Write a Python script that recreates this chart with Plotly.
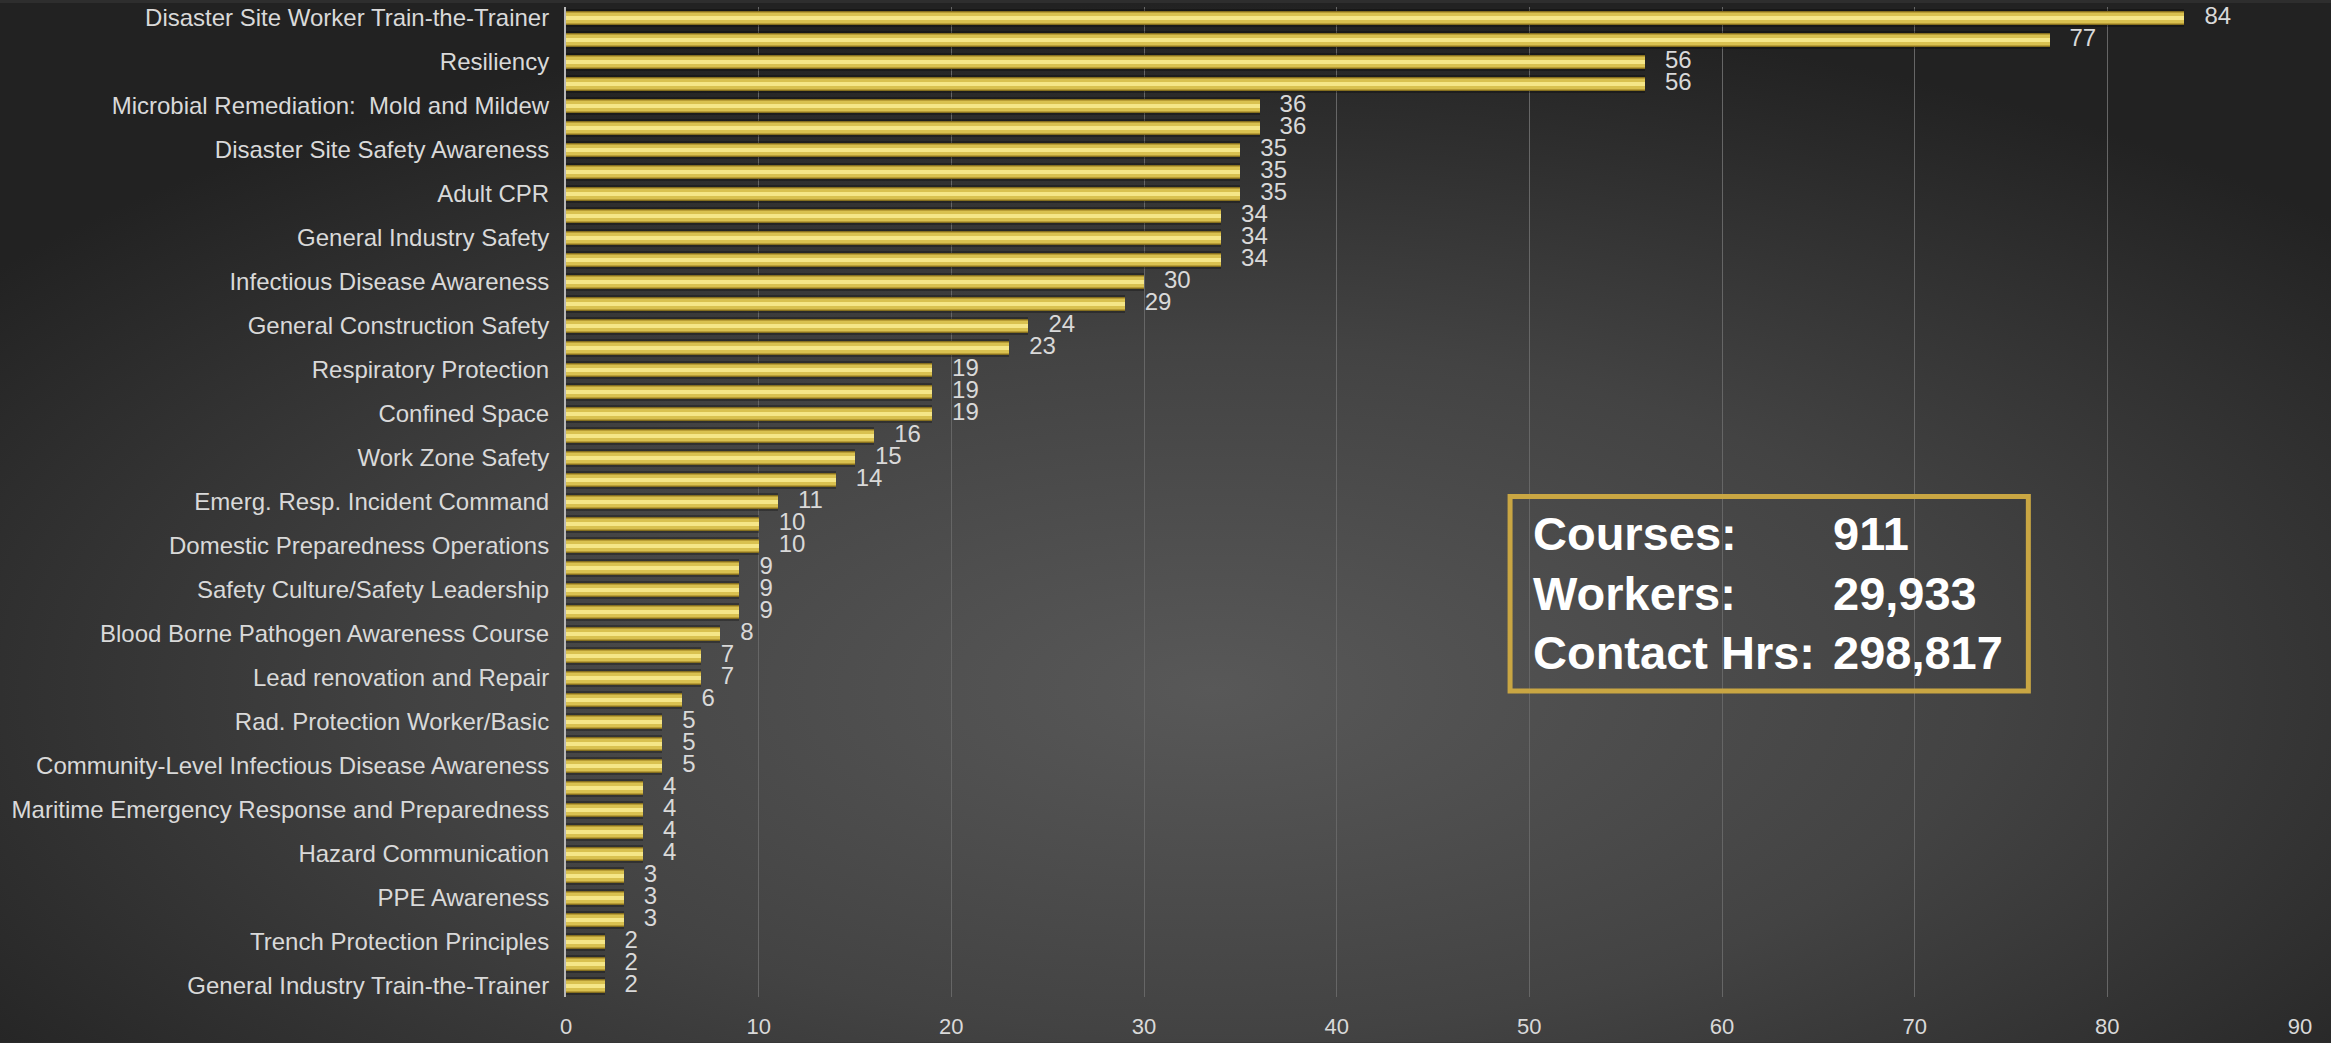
import base64
import plotly.graph_objects as go

# ---- data ----
courses = [
    "Disaster Site Worker Train-the-Trainer", "",
    "Resiliency", "",
    "Microbial Remediation:  Mold and Mildew", "",
    "Disaster Site Safety Awareness", "",
    "Adult CPR", "",
    "General Industry Safety", "",
    "Infectious Disease Awareness", "",
    "General Construction Safety", "",
    "Respiratory Protection", "",
    "Confined Space", "",
    "Work Zone Safety", "",
    "Emerg. Resp. Incident Command", "",
    "Domestic Preparedness Operations", "",
    "Safety Culture/Safety Leadership", "",
    "Blood Borne Pathogen Awareness Course", "",
    "Lead renovation and Repair", "",
    "Rad. Protection Worker/Basic", "",
    "Community-Level Infectious Disease Awareness", "",
    "Maritime Emergency Response and Preparedness", "",
    "Hazard Communication", "",
    "PPE Awareness", "",
    "Trench Protection Principles", "",
    "General Industry Train-the-Trainer",
]
counts = [84, 77, 56, 56, 36, 36, 35, 35, 35, 34, 34, 34, 30, 29, 24, 23,
          19, 19, 19, 16, 15, 14, 11, 10, 10, 9, 9, 9, 8, 7, 7, 6,
          5, 5, 5, 4, 4, 4, 4, 3, 3, 3, 2, 2, 2]
x_ticks = [0, 10, 20, 30, 40, 50, 60, 70, 80, 90]
summary_labels = ["Courses:", "Workers:", "Contact Hrs:"]
summary_values = ["911", "29,933", "298,817"]

rows = list(range(len(counts)))

W, H = 2331, 1043
ML, MR, MT, MB = 566, 31, 4, 46
PW, PH = W - ML - MR, H - MT - MB

FONT = "Liberation Sans, Arial, sans-serif"
TXT = "#d9d9d9"

# background radial gradient as an SVG image
svg = f'''<svg xmlns="http://www.w3.org/2000/svg" width="{W}" height="{H}" viewBox="0 0 {W} {H}" preserveAspectRatio="none">
<defs><radialGradient id="g" cx="0.52" cy="0.66" r="0.66" gradientUnits="objectBoundingBox">
<stop offset="0" stop-color="#585858"/><stop offset="0.5" stop-color="#434343"/><stop offset="1" stop-color="#222222"/>
</radialGradient></defs><rect width="{W}" height="{H}" fill="url(#g)"/></svg>'''
src = "data:image/svg+xml;base64," + base64.b64encode(svg.encode()).decode()

fig = go.Figure()
layers = [
    (0.84, "rgba(0,0,0,0.28)"),
    (0.66, "#86701f"),
    (0.56, "#b89c36"),
    (0.42, "#d9c150"),
    (0.20, "#f5e688"),
]
for wdt, col in layers:
    fig.add_trace(go.Bar(
        x=counts, y=rows, orientation="h", width=wdt,
        marker=dict(color=col, line=dict(width=0)),
        hoverinfo="skip", showlegend=False,
    ))

fig.add_trace(go.Scatter(
    x=counts, y=rows, mode="text",
    text=["   " + str(v) for v in counts],
    textposition="middle right",
    textfont=dict(family=FONT, size=24, color=TXT),
    hoverinfo="skip", showlegend=False, cliponaxis=False,
))

# summary box
fig.add_shape(type="rect", xref="x", yref="paper",
              x0=49.0, x1=75.9, y0=0.309, y1=0.5055,
              line=dict(color="#c9a643", width=5), fillcolor="rgba(0,0,0,0)")
row_y = [0.468, 0.408, 0.348]
for lab, val, yy in zip(summary_labels, summary_values, row_y):
    fig.add_annotation(x=50.1, y=yy, xref="x", yref="paper", text=f"<b>{lab}</b>",
                       showarrow=False, xanchor="left", yanchor="middle",
                       font=dict(family=FONT, size=47, color="white"))
    fig.add_annotation(x=65.65, y=yy, xref="x", yref="paper", text=f"<b>{val}</b>",
                       showarrow=False, xanchor="left", yanchor="middle",
                       font=dict(family=FONT, size=47, color="white"))

fig.update_layout(
    width=W, height=H,
    margin=dict(l=ML, r=MR, t=MT, b=MB),
    paper_bgcolor="#2e2e2e",
    plot_bgcolor="rgba(0,0,0,0)",
    barmode="overlay",
    bargap=0,
    images=[dict(source=src, xref="paper", yref="paper",
                 x=-ML / PW, y=1 + MT / PH, sizex=W / PW, sizey=H / PH,
                 sizing="stretch", layer="below", xanchor="left", yanchor="top")],
    xaxis=dict(range=[0, 90], tickvals=x_ticks, showgrid=True,
               gridcolor="#666666", gridwidth=1, zeroline=False,
               showline=False, ticks="", ticklabelstandoff=14,
               tickfont=dict(family=FONT, size=22, color=TXT)),
    yaxis=dict(range=[len(counts) - 0.5, -0.5], tickvals=rows, ticktext=courses,
               showgrid=False, zeroline=False, showline=True,
               linecolor="#b8b8b8", linewidth=2, ticks="", ticklabelstandoff=10,
               tickfont=dict(family=FONT, size=24, color=TXT)),
    font=dict(family=FONT, color=TXT),
)

fig.write_html("out.html", config={"displayModeBar": False},
               post_script="document.body.style.margin='0';document.body.style.background='#2e2e2e';")
